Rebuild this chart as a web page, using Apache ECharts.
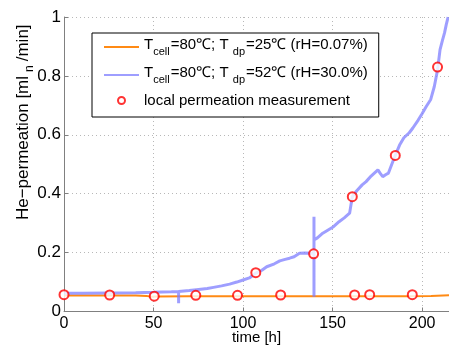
<!DOCTYPE html>
<html>
<head>
<meta charset="utf-8">
<script src="https://cdn.jsdelivr.net/npm/echarts@6/dist/echarts.min.js"></script>
<style>
html,body{margin:0;padding:0;background:#fff;}
#c{width:449px;height:345px;}
</style>
</head>
<body>
<div id="c"></div>
<script>
// ---- data ----
var xTicks = [0, 50, 100, 150, 200];
var yTicks = [0, 0.2, 0.4, 0.6, 0.8, 1];

var dryName = 'Tcell=80℃; Tdp=25℃ (rH=0.07%)';
var wetName = 'Tcell=80℃; Tdp=52℃ (rH=30.0%)';
var measName = 'local permeation measurement';

var dryT = [0, 20, 40, 46, 48.5, 52, 70, 100, 130, 160, 190, 205, 215];
var dryV = [0.054, 0.054, 0.054, 0.053, 0.050, 0.051, 0.052, 0.052, 0.052, 0.052, 0.052, 0.053, 0.055];

var wetT = [0, 10, 25, 40, 50, 60, 64, 64, 64, 64.5, 70, 74, 80, 83.5, 88, 92.5, 96.5, 100, 103.5, 107.1,
            110.5, 113.2, 117.5, 120.5, 123.5, 126, 128.5, 131.5, 134.5, 138, 139.6, 139.6, 139.6, 139.6,
            141.5, 144.5, 147.5, 150.5, 153.6, 156.5, 159.5, 160.2, 161, 163.5, 166.5, 168.7, 171.5, 175.3,
            176.7, 178, 179.8, 181.2, 183.7, 185, 187.4, 189.8, 192.8, 194.8, 197.8, 199.8, 202.3, 204.8,
            206.8, 208.6, 210, 211.3, 212.5, 213.5, 214.5];
var wetV = [0.062, 0.062, 0.063, 0.064, 0.065, 0.067, 0.068, 0.028, 0.068, 0.069, 0.071, 0.074, 0.078, 0.082, 0.087, 0.093, 0.1, 0.107, 0.114, 0.13,
            0.14, 0.152, 0.162, 0.172, 0.177, 0.181, 0.186, 0.198, 0.199, 0.198, 0.198, 0.322, 0.05, 0.243,
            0.25, 0.266, 0.277, 0.288, 0.305, 0.318, 0.334, 0.36, 0.39, 0.41, 0.43, 0.441, 0.46, 0.481,
            0.468, 0.458, 0.465, 0.47, 0.51, 0.53, 0.565, 0.59, 0.607, 0.623, 0.65, 0.67, 0.696, 0.72,
            0.764, 0.82, 0.889, 0.92, 0.946, 0.975, 1.0];

var measT = [0, 25.5, 50.4, 73.6, 96.9, 107.1, 121, 139.4, 161, 162.3, 170.7, 185, 194.5, 208.6];
var measV = [0.057, 0.056, 0.052, 0.055, 0.055, 0.132, 0.056, 0.196, 0.39, 0.056, 0.057, 0.53, 0.057, 0.83];

function zip(a, b) { return a.map(function (v, i) { return [v, b[i]]; }); }

var FONT = 'Liberation Sans, Arial, Helvetica, sans-serif';
var legendRich = {
  m: { fontSize: 15, fontFamily: FONT, color: '#000', lineHeight: 16, verticalAlign: 'top' },
  s: { fontSize: 11, fontFamily: FONT, color: '#000', padding: [9, 1, 0, 0], verticalAlign: 'bottom' },
  w: { fontSize: 15, fontFamily: FONT, color: '#000', lineHeight: 21, verticalAlign: 'middle' }
};
var legendLabels = {};
legendLabels[dryName] = '{m|T}{s|cell}{m|=80℃; T }{s|dp}{m|=25℃ (rH=0.07%)}';
legendLabels[wetName] = '{m|T}{s|cell}{m|=80℃; T }{s|dp}{m|=52℃ (rH=30.0%)}';
legendLabels[measName] = '{w|local permeation measurement}';

var chart = echarts.init(document.getElementById('c'), null, { renderer: 'canvas' });
chart.setOption({
  animation: false,
  backgroundColor: '#fff',
  textStyle: { fontFamily: FONT },
  grid: { left: 64, right: 0, top: 17, bottom: 33.5, containLabel: false, outerBoundsMode: 'none' },
  legend: {
    orient: 'vertical',
    left: 92, top: 33,
    backgroundColor: '#fff',
    borderColor: '#000', borderWidth: 1, borderRadius: 0,
    padding: [4, 11, 9, 11],
    itemWidth: 35, itemHeight: 7, itemGap: 8,
    textStyle: { fontSize: 15, color: '#000', fontFamily: FONT, rich: legendRich },
    formatter: function (n) { return legendLabels[n]; },
    data: [
      { name: dryName, itemStyle: { opacity: 0 } },
      { name: wetName, itemStyle: { opacity: 0 } },
      { name: measName, icon: 'emptyCircle' }
    ]
  },
  xAxis: {
    type: 'value', min: 0, max: 215, interval: 50,
    name: 'time [h]', nameLocation: 'middle', nameGap: 19, nameMoveOverlap: false,
    nameTextStyle: { fontSize: 15, color: '#000', fontFamily: FONT },
    axisLine: { show: true, onZero: false, lineStyle: { color: '#808080', width: 1 } },
    axisTick: { show: true, inside: true, length: 4, lineStyle: { color: '#808080' } },
    axisLabel: {
      fontSize: 16, color: '#000', margin: 4, fontFamily: FONT,
      formatter: function (v) { return xTicks.indexOf(v) >= 0 ? String(v) : ''; }
    },
    splitLine: { show: true, lineStyle: { color: '#b8b8b8', type: [1, 3], width: 1 } }
  },
  yAxis: {
    type: 'value', min: 0, max: 1, interval: 0.2,
    name: '{m|He−permeation [ml}{s|n}{m|/min]}', nameLocation: 'middle', nameGap: 28, nameRotate: 90, nameMoveOverlap: false,
    nameTextStyle: {
      fontSize: 17, color: '#000', fontFamily: FONT, padding: [0, 0, 0, 84],
      rich: {
        m: { fontSize: 17, fontFamily: FONT, color: '#000', lineHeight: 18, verticalAlign: 'top' },
        s: { fontSize: 12, fontFamily: FONT, color: '#000', padding: [9, 4, 0, 4], verticalAlign: 'bottom' }
      }
    },
    axisLine: { show: true, onZero: false, lineStyle: { color: '#808080', width: 1 } },
    axisTick: { show: true, inside: true, length: 4, lineStyle: { color: '#808080' } },
    axisLabel: {
      fontSize: 17, color: '#000', margin: 3, fontFamily: FONT,
      formatter: function (v) { return yTicks.indexOf(Math.round(v * 10) / 10) >= 0 ? String(Math.round(v * 10) / 10) : ''; }
    },
    splitLine: { show: true, lineStyle: { color: '#b8b8b8', type: [1, 3], width: 1 } }
  },
  series: [
    {
      name: dryName, type: 'line', data: zip(dryT, dryV),
      symbol: 'none', lineStyle: { color: '#ff8a14', width: 2 }, itemStyle: { color: '#ff8a14' },
      z: 2
    },
    {
      name: wetName, type: 'line', data: zip(wetT, wetV),
      symbol: 'none', lineStyle: { color: 'rgba(125,125,255,0.75)', width: 3 }, itemStyle: { color: 'rgba(125,125,255,0.75)' },
      z: 3
    },
    {
      name: measName, type: 'scatter', data: zip(measT, measV),
      symbol: 'emptyCircle', symbolSize: 9,
      itemStyle: { color: '#ff0000', borderColor: '#ff0000', borderWidth: 1.3 },
      z: 4
    }
  ]
});
</script>
</body>
</html>
